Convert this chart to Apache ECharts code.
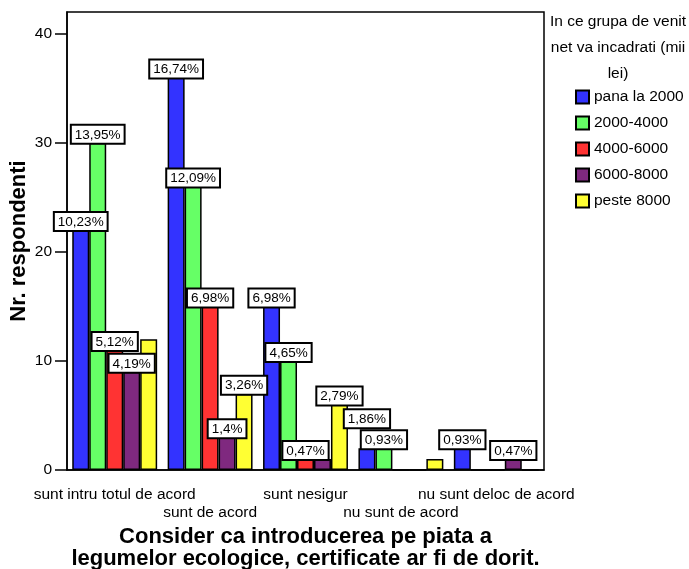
<!DOCTYPE html>
<html>
<head>
<meta charset="utf-8">
<script src="https://cdn.jsdelivr.net/npm/echarts@6/dist/echarts.min.js"></script>
<style>
    html, body { margin: 0; padding: 0; background: #fff; }
    #mains { width: 689px; height: 569px; }
</style>
</head>
<body>
<div id="mains"></div>
<script>
    // categorii (raspunsuri)
    var categories = ['sunt intru totul de acord', 'sunt de acord', 'sunt nesigur', 'nu sunt de acord', 'nu sunt deloc de acord'];
    var groups = ['pana la 2000', '2000-4000', '4000-6000', '6000-8000', 'peste 8000'];

    // nr. respondenti pe grupe de venit
    var pana2000 = [22, 36, 15, 2, 2];
    var v2000_4000 = [30, 26, 10, 2, 0];
    var v4000_6000 = [11, 15, 1, 0, 0];
    var v6000_8000 = [9, 3, 1, 0, 1];
    var peste8000 = [12, 7, 6, 1, 0];

    // etichetele procentuale ('' = fara eticheta)
    var lbl_pana2000 = ['10,23%', '16,74%', '6,98%', '1,86%', '0,93%'];
    var lbl_2000_4000 = ['13,95%', '12,09%', '4,65%', '0,93%', ''];
    var lbl_4000_6000 = ['5,12%', '6,98%', '0,47%', '', ''];
    var lbl_6000_8000 = ['4,19%', '1,4%', '', '', '0,47%'];
    var lbl_peste8000 = ['', '3,26%', '2,79%', '', ''];

    var yTicks = [0, 10, 20, 30, 40];

    var colors = ['#3333ff', '#66ff66', '#ff3333', '#7f297f', '#ffff33'];
    var values = [pana2000, v2000_4000, v4000_6000, v6000_8000, peste8000];
    var labels = [lbl_pana2000, lbl_2000_4000, lbl_4000_6000, lbl_6000_8000, lbl_peste8000];

    var font = 'Liberation Sans, Arial, sans-serif';

    function build_series(k) {
        return {
            name: groups[k],
            type: 'bar',
            xAxisIndex: 0,
            barGap: '0%',
            barCategoryGap: '11%',
            itemStyle: {
                color: colors[k],
                borderColor: '#000',
                borderWidth: 1.5
            },
            data: values[k].map(function (v, i) {
                var txt = labels[k][i];
                var item = { value: v };
                item.label = {
                    show: txt !== '',
                    position: 'top',
                    distance: 0,
                    formatter: txt,
                    fontFamily: font,
                    fontSize: 13.5,
                    color: '#000',
                    backgroundColor: '#fff',
                    borderColor: '#000',
                    borderWidth: 2,
                    padding: [2, 3, 1, 3],
                    // eticheta mutata in sus ca in original (suprapunere)
                    offset: (k === 0 && i === 3) ? [0, -21] : [0, 0]
                };
                return item;
            })
        };
    }

    var series = [];
    for (var k = 0; k < groups.length; k++) {
        series.push(build_series(k));
    }

    var myChart = echarts.init(document.getElementById('mains'));
    myChart.setOption({
        animation: false,
        textStyle: { fontFamily: font },
        grid: {
            left: 67,
            right: 145,
            top: 12,
            bottom: 99,
            outerBoundsMode: 'none',
            show: true,
            borderColor: '#000',
            borderWidth: 1.5,
            backgroundColor: '#fff'
        },
        legend: {
            orient: 'vertical',
            left: 570,
            top: 84,
            itemWidth: 13,
            itemHeight: 13,
            itemGap: 10,
            icon: 'rect',
            data: groups,
            textStyle: { fontFamily: font, fontSize: 15.5, color: '#000' }
        },
        graphic: [{
            type: 'text',
            x: 618,
            y: 9,
            style: {
                text: 'In ce grupa de venit\nnet va incadrati (mii\nlei)',
                textAlign: 'center',
                font: '15.5px ' + font,
                lineHeight: 26,
                fill: '#000'
            }
        }],
        xAxis: [
            {
                type: 'category',
                data: categories,
                position: 'bottom',
                axisLine: { lineStyle: { color: '#000', width: 1.5 } },
                axisTick: {
                    alignWithLabel: true,
                    length: 11,
                    interval: function (idx) { return idx % 2 === 0; },
                    lineStyle: { color: '#000', width: 1.5 }
                },
                axisLabel: {
                    interval: function (idx) { return idx % 2 === 0; },
                    margin: 17,
                    fontSize: 15.5,
                    color: '#000'
                },
                name: 'Consider ca introducerea pe piata a\nlegumelor ecologice, certificate ar fi de dorit.',
                nameLocation: 'middle',
                nameGap: 56,
                nameTextStyle: {
                    fontSize: 22,
                    fontWeight: 'bold',
                    color: '#000',
                    lineHeight: 22,
                    verticalAlign: 'top'
                }
            },
            {
                type: 'category',
                data: categories,
                position: 'bottom',
                axisLine: { show: false },
                axisTick: {
                    alignWithLabel: true,
                    length: 28,
                    interval: function (idx) { return idx % 2 === 1; },
                    lineStyle: { color: '#000', width: 1.5 }
                },
                axisLabel: {
                    interval: function (idx) { return idx % 2 === 1; },
                    margin: 35,
                    fontSize: 15.5,
                    color: '#000'
                }
            }
        ],
        yAxis: {
            type: 'value',
            min: 0,
            max: 42,
            interval: 10,
            splitLine: { show: false },
            axisLine: { show: true, lineStyle: { color: '#000', width: 1.5 } },
            axisTick: {
                show: true,
                length: 12,
                customValues: yTicks,
                lineStyle: { color: '#000', width: 1.5 }
            },
            axisLabel: {
                customValues: yTicks,
                margin: 15,
                fontSize: 15.5,
                color: '#000'
            },
            name: 'Nr. respondenti',
            nameLocation: 'middle',
            nameRotate: 90,
            nameGap: 37,
            nameMoveOverlap: false,
            nameTextStyle: { fontSize: 22, fontWeight: 'bold', color: '#000' }
        },
        series: series
    });
</script>
</body>
</html>
